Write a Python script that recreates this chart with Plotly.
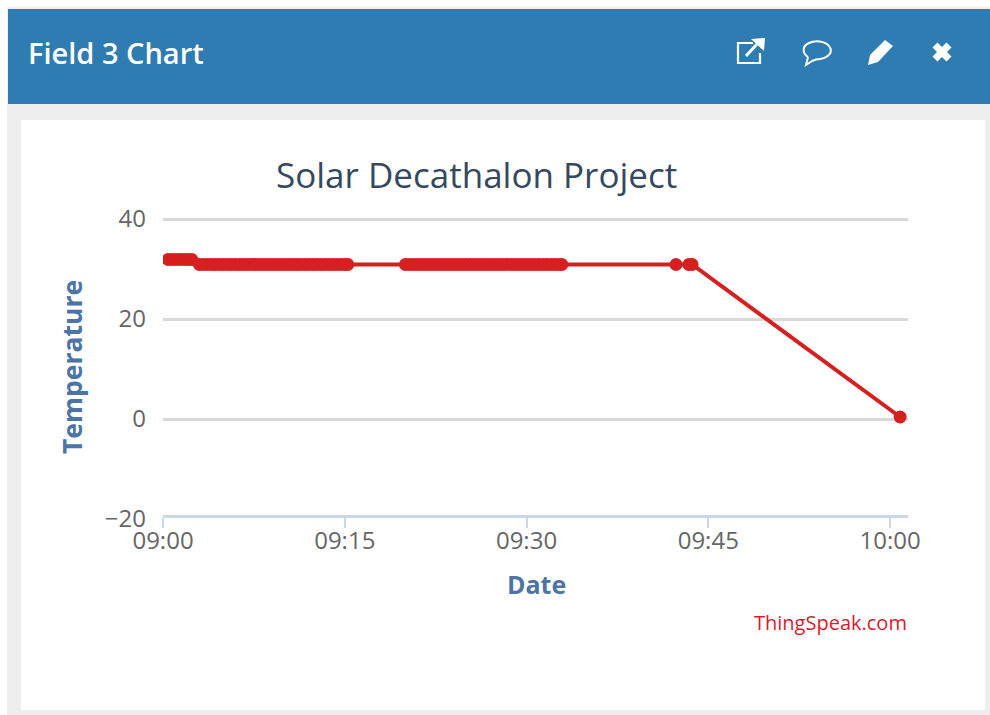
import plotly.graph_objects as go

DAY = "2017-06-01 "
times_32 = ["09:00:25","09:00:45","09:01:05","09:01:25","09:01:45","09:02:05","09:02:23"]
times_31a = ["09:03:00","09:03:20","09:03:40","09:04:00","09:04:20","09:04:40","09:05:00","09:05:20","09:05:40",
             "09:06:00","09:06:20","09:06:40","09:07:00","09:07:20","09:07:40","09:08:00","09:08:20","09:08:40",
             "09:09:00","09:09:20","09:09:40","09:10:00","09:10:20","09:10:40","09:11:00","09:11:20","09:11:40",
             "09:12:00","09:12:20","09:12:40","09:13:00","09:13:20","09:13:40","09:14:00","09:14:20","09:14:40",
             "09:15:00","09:15:15"]
times_31b = ["09:20:00","09:20:20","09:20:40","09:21:00","09:21:20","09:21:40","09:22:00","09:22:20","09:22:40",
             "09:23:00","09:23:20","09:23:40","09:24:00","09:24:20","09:24:40","09:25:00","09:25:20","09:25:40",
             "09:26:00","09:26:20","09:26:40","09:27:00","09:27:20","09:27:40","09:28:00","09:28:20","09:28:40",
             "09:29:00","09:29:20","09:29:40","09:30:00","09:30:20","09:30:40","09:31:00","09:31:20","09:31:40",
             "09:32:00","09:32:20","09:32:40","09:32:55"]
times_end = ["09:42:20","09:43:24","09:43:40","10:00:50"]
values_end = [30.9, 30.9, 30.9, 0.4]
TEMP_HIGH = 31.9
TEMP_MID = 30.9

times = times_32 + times_31a + times_31b + times_end
temps = [TEMP_HIGH]*len(times_32) + [TEMP_MID]*(len(times_31a)+len(times_31b)) + values_end
x_vals = [DAY + t for t in times]

TITLE = "Solar Decathalon Project"
PANEL_TITLE = "Field 3 Chart"
X_TITLE = "Date"
Y_TITLE = "Temperature"
CREDIT = "ThingSpeak.com"
y_ticks = [-20, 0, 20, 40]
y_labels = ["−20", "0", "20", "40"]

W, H = 990, 715
PX = lambda x: x / W
PY = lambda y: 1 - y / H
BLUE = "#2e7cb2"
GREY = "#eeeeee"
FONT = "Open Sans"
RED = "#d62020"
W_ = "white"

def rect(x0, y0, x1, y1, color):
    return dict(type="rect", xref="paper", yref="paper", x0=PX(x0), x1=PX(x1), y0=PY(y1), y1=PY(y0),
                fillcolor=color, line=dict(width=0), layer="below")

def path(points, fill=None, stroke=None, width=2):
    d = ""
    for cmd, *p in points:
        d += cmd
        for i in range(0, len(p), 2):
            d += f" {PX(p[i]):.5f},{PY(p[i+1]):.5f} "
    s = dict(type="path", xref="paper", yref="paper", path=d, layer="above")
    s["fillcolor"] = fill if fill else "rgba(0,0,0,0)"
    s["line"] = dict(color=stroke, width=width) if stroke else dict(width=0)
    return s

shapes = [
    rect(0, 0, W, H, "white"),
    rect(7, 7, W, H, GREY),
    rect(8, 9, W, 104, BLUE),
    rect(21, 120, 985, 710, "white"),
    # external link icon
    path([("M",753,43),("L",738,43),("L",738,63),("L",760,63),("L",760,53)], stroke=W_, width=2.2),
    path([("M",746,56),("L",758,43)], stroke=W_, width=3),
    path([("M",751,39),("L",765,38),("L",764,51),("Z",)], fill=W_),
    # speech bubble icon
    path([("M",808,57),("C",802,53,802,46,809,43),("C",815,40,825,41,829,46),("C",834,52,828,58,820,59),
          ("C",816,59,814,60,812,61),("L",806,65),("L",808,57)], stroke=W_, width=2),
    # pencil icon
    path([("M",870,55),("L",885,40),("L",893,46),("L",878,62),("L",868,65),("Z",)], fill=W_),
    # close icon
    path([("M",935,45),("L",949,59)], stroke=W_, width=7),
    path([("M",949,45),("L",935,59)], stroke=W_, width=7),
]

fig = go.Figure(go.Scatter(
    x=x_vals, y=temps, mode="lines+markers",
    line=dict(color=RED, width=4),
    marker=dict(color=RED, size=13, line=dict(width=0)),
    hoverinfo="x+y", showlegend=False,
))

annotations = [
    dict(text=PANEL_TITLE, x=PX(26), y=PY(52), xref="paper", yref="paper", xanchor="left", yanchor="middle",
         showarrow=False, font=dict(family=FONT, size=29, color="white", weight=600)),
    dict(text=TITLE, x=PX(476), y=PY(174), xref="paper", yref="paper", xanchor="center", yanchor="middle",
         showarrow=False, font=dict(family=FONT, size=35, color="#34495e")),
    dict(text=X_TITLE, x=PX(536), y=PY(584), xref="paper", yref="paper", xanchor="center", yanchor="middle",
         showarrow=False, font=dict(family=FONT, size=25, color="#4d74a6", weight="bold")),
    dict(text=Y_TITLE, x=PX(72), y=PY(367), xref="paper", yref="paper", xanchor="center", yanchor="middle",
         textangle=-90, showarrow=False, font=dict(family=FONT, size=26.5, color="#4d74a6", weight="bold")),
    dict(text=CREDIT, x=PX(909), y=PY(622), xref="paper", yref="paper", xanchor="right", yanchor="middle",
         showarrow=False, font=dict(family=FONT, size=20, color="#dc1a2e")),
]

Y_TOP, Y_BOTTOM = 216, 519
fig.update_layout(
    template="none",
    width=W, height=H, margin=dict(l=0, r=0, t=0, b=0, pad=0), autosize=False,
    paper_bgcolor="white", plot_bgcolor="rgba(0,0,0,0)",
    shapes=shapes, annotations=annotations,
    xaxis=dict(
        automargin=False, anchor="free", position=PY(516),
        domain=[PX(163), PX(908)], type="date",
        range=[DAY + "09:00:00", DAY + "10:01:29"],
        dtick=900000, tick0=DAY + "09:00:00", tickformat="%H:%M",
        showgrid=False, zeroline=False, showline=True, linecolor="#ccd6eb", linewidth=3,
        ticks="outside", ticklen=10, tickwidth=1.5, tickcolor="#ccd6eb",
        ticklabelstandoff=-8,
        tickfont=dict(family=FONT, size=24, color="#666666"),
    ),
    yaxis=dict(
        automargin=False,
        domain=[PY(Y_BOTTOM), PY(Y_TOP)], range=[-20, 40.6],
        tickvals=y_ticks, ticktext=y_labels,
        showgrid=True, gridcolor="#d9d9d9", gridwidth=3,
        zeroline=False, showline=False, ticks="",
        ticklabelstandoff=16,
        tickfont=dict(family=FONT, size=24, color="#666666"),
    ),
)

fig.write_html("out.html", config=dict(displayModeBar=False),
               post_script="document.body.style.margin='0';document.body.style.overflow='hidden';")
